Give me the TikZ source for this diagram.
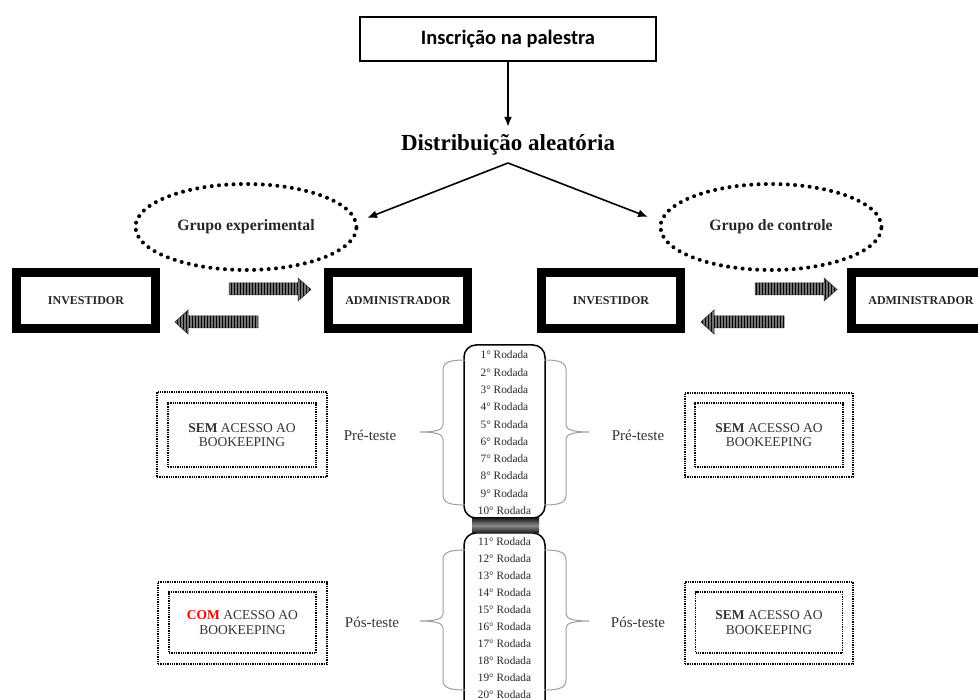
\documentclass[tikz,border=0pt]{standalone}
\usepackage{fontspec}
\setmainfont{Liberation Serif}
\newfontfamily\calibri{Carlito}
\usetikzlibrary{shapes.geometric,arrows.meta,patterns}
\definecolor{txt}{HTML}{333333}
\tikzset{
  topbox/.style={draw, line width=2.5pt, minimum width=296, minimum height=44, inner sep=0, font=\calibri\bfseries\fontsize{20.5}{24}\selectfont},
  grp/.style={ellipse, draw, line width=4pt, dash pattern=on 0.01pt off 7.3pt, line cap=round, minimum width=221, minimum height=86, inner sep=0, font=\bfseries\fontsize{15.8}{18}\selectfont, text=black!85},
  rolebox/.style={draw, line width=9pt, minimum width=139, minimum height=56, inner sep=0, font=\bfseries\fontsize{12}{14}\selectfont, text=black!85},
  dotbox/.style={draw, line width=1.3pt, dash pattern=on 1.3pt off 1pt, inner sep=0},
  acc/.style={align=center, font=\fontsize{13.5}{14.5}\selectfont, text=txt},
  phase/.style={font=\fontsize{15}{18}\selectfont, text=txt},
  rod/.style={font=\fontsize{11.3}{13}\selectfont, text=black!85, inner sep=0},
  rodbox/.style={draw, line width=1.5pt, rounded corners=12pt},
  brc/.style={draw=gray!75, line width=1pt},
  link/.style={line width=1.6pt, -{Latex[length=10pt,width=8pt]}},
  blkfill/.style={fill=black!55},
  blkpat/.style={pattern=vertical lines, pattern color=black},
  blkline/.style={draw=black!85, line width=0.5pt},
}
\begin{document}
\begin{tikzpicture}[x=1pt,y=-1pt]
\useasboundingbox (0,0) rectangle (978,700);
\clip (0,0) rectangle (978,700);
% top
\node[topbox] (insc) at (508,39) {Inscrição na palestra};
\node[font=\bfseries\fontsize{23}{27}\selectfont, minimum height=36, inner sep=0] (dist) at (508,145) {Distribuição aleatória};
\draw[link] (insc.south) -- (dist.north);
\coordinate (split) at (508,163);
\coordinate (tipE) at (367,218);
\coordinate (tipC) at (648,217);
% groups
\node[grp] (grpE) at (246,227) {Grupo experimental};
\node[grp] (grpC) at (771,227) {Grupo de controle};
\draw[link] (split) -- (tipE);
\draw[link] (split) -- (tipC);
% roles
\node[rolebox] (invE) at (86,300.5) {INVESTIDOR};
\node[rolebox] (admE) at (398,300.5) {ADMINISTRADOR};
\node[rolebox] (invC) at (611,300.5) {INVESTIDOR};
\node[rolebox] (admC) at (921,300.5) {ADMINISTRADOR};
% block arrows
\foreach \dx in {0,526}{
  \begin{scope}[xshift=\dx]
  \foreach \s in {blkfill,blkpat,blkline}{
    \path[\s] (229,283) -- (298,283) -- (298,278) -- (311,289.5) -- (298,301) -- (298,295) -- (229,295) -- cycle;
    \path[\s] (258,316) -- (188,316) -- (188,310) -- (175,322) -- (188,334) -- (188,328) -- (258,328) -- cycle;
  }
  \end{scope}
}
% rounds column
\draw[rodbox] (464,345) rectangle (545,518);
\draw[rodbox] (464,533) rectangle (545,730);
\shade[top color=black!90, bottom color=black!90, middle color=black!45] (472,518) rectangle (539,533);
\foreach \i in {1,...,10}{
  \node[rod] (r\i) at (504.5,{355+17.3*(\i-1)}) {\i° Rodada};
}
\foreach \i in {11,...,20}{
  \node[rod] (r\i) at (504.5,{541.7+17.0*(\i-11)}) {\i° Rodada};
}
% braces
\draw[brc] (465,360) .. controls (450,360) and (443,362) .. (443,370) -- (443,425) .. controls (443,430) and (435,432) .. (420,432) .. controls (435,432) and (443,434) .. (443,439) -- (443,495) .. controls (443,503) and (450,505) .. (465,505);
\draw[brc] (544,360) .. controls (559,360) and (566,362) .. (566,370) -- (566,425) .. controls (566,430) and (574,432) .. (589,432) .. controls (574,432) and (566,434) .. (566,439) -- (566,495) .. controls (566,503) and (559,505) .. (544,505);
\draw[brc] (465,550) .. controls (450,550) and (443,552) .. (443,560) -- (443,614) .. controls (443,619) and (435,621) .. (420,621) .. controls (435,621) and (443,623) .. (443,628) -- (443,680) .. controls (443,688) and (450,690) .. (465,690);
\draw[brc] (544,550) .. controls (559,550) and (566,552) .. (566,560) -- (566,614) .. controls (566,619) and (574,621) .. (589,621) .. controls (574,621) and (566,623) .. (566,628) -- (566,680) .. controls (566,688) and (559,690) .. (544,690);
% phase labels
\node[phase] (preE) at (370,435) {Pré-teste};
\node[phase] (preC) at (638,435) {Pré-teste};
\node[phase] (posE) at (372,622) {Pós-teste};
\node[phase] (posC) at (638,622) {Pós-teste};
% access boxes
\node[dotbox, minimum width=170, minimum height=85] (oA) at (242,434.5) {};
\node[dotbox, minimum width=148, minimum height=64] (iA) at (242,435) {};
\node[acc] (tA) at (242,435) {\textbf{SEM} ACESSO AO\\BOOKEEPING};
\node[dotbox, minimum width=168, minimum height=84] (oB) at (769,435) {};
\node[dotbox, minimum width=148, minimum height=64] (iB) at (769,435) {};
\node[acc] (tB) at (769,435) {\textbf{SEM} ACESSO AO\\BOOKEEPING};
\node[dotbox, minimum width=169, minimum height=82] (oC) at (242.5,623) {};
\node[dotbox, minimum width=147, minimum height=61] (iC) at (242.5,622.5) {};
\node[acc] (tC) at (242.5,622.5) {\textbf{\textcolor{red}{COM}} ACESSO AO\\BOOKEEPING};
\node[dotbox, minimum width=168, minimum height=82] (oD) at (769,623) {};
\node[dotbox, minimum width=147, minimum height=61] (iD) at (769,622.5) {};
\node[acc] (tD) at (769,622.5) {\textbf{SEM} ACESSO AO\\BOOKEEPING};
\end{tikzpicture}
\end{document}
